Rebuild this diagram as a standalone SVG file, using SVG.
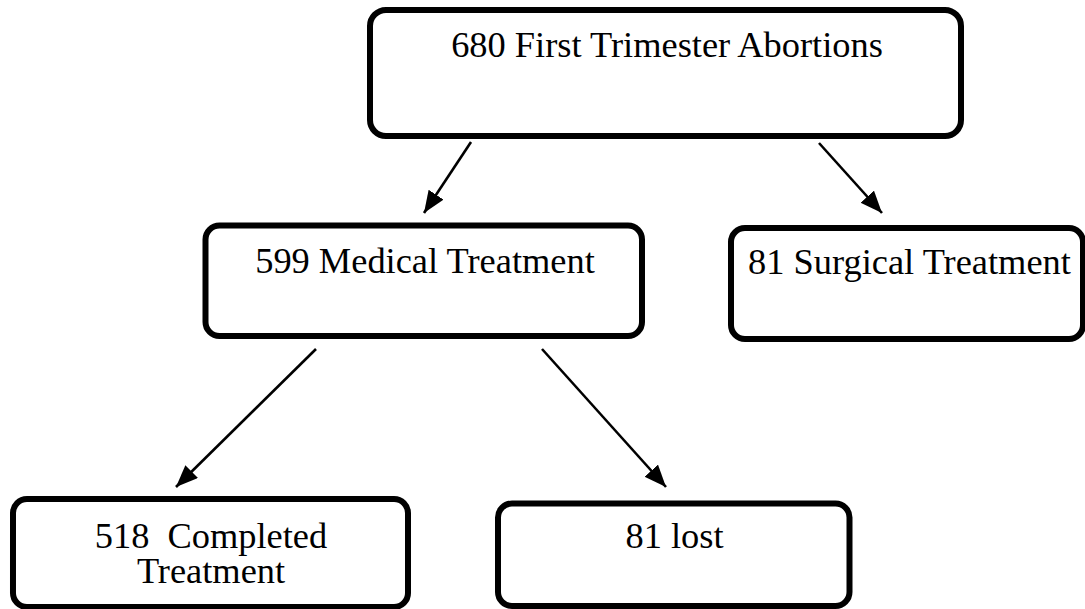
<svg xmlns="http://www.w3.org/2000/svg" width="1085" height="609" viewBox="0 0 1085 609">
  <style>
    .box { fill: #ffffff; stroke: #000000; stroke-width: 6; }
    .lbl { font-family: "Liberation Serif", "Times New Roman", serif; font-size: 36.4px; fill: #000000; text-anchor: middle; }
    .conn { stroke: #000000; stroke-width: 2.6; fill: none; marker-end: url(#arrow); }
  </style>
  <defs>
    <marker id="arrow" markerUnits="userSpaceOnUse" markerWidth="24" markerHeight="20" refX="22" refY="9" orient="auto">
      <path d="M0,0 L22,9 L0,18 Z" fill="#000000"/>
    </marker>
  </defs>
  <rect width="1085" height="609" fill="#ffffff"/>
  <g id="node-abortions">
    <rect class="box" x="370" y="10" width="591" height="126" rx="16"/>
    <text class="lbl" x="667" y="57">680 First Trimester Abortions</text>
  </g>
  <g id="node-medical">
    <rect class="box" x="205.5" y="225.5" width="436.5" height="110.5" rx="14"/>
    <text class="lbl" x="425" y="273">599 Medical Treatment</text>
  </g>
  <g id="node-surgical">
    <rect class="box" x="731" y="228" width="352" height="111" rx="14"/>
    <text class="lbl" x="909.5" y="274">81 Surgical Treatment</text>
  </g>
  <g id="node-completed">
    <rect class="box" x="13" y="499" width="395" height="108" rx="14"/>
    <text class="lbl" xml:space="preserve"><tspan x="211" y="548">518  Completed</tspan><tspan x="211" y="583">Treatment</tspan></text>
  </g>
  <g id="node-lost">
    <rect class="box" x="498" y="503.5" width="351.5" height="102.5" rx="14"/>
    <text class="lbl" x="674.5" y="548">81 lost</text>
  </g>
  <g id="connectors">
    <line class="conn" x1="471" y1="142" x2="424" y2="213"/>
    <line class="conn" x1="819" y1="143" x2="882" y2="213"/>
    <line class="conn" x1="316" y1="349" x2="176" y2="487"/>
    <line class="conn" x1="542" y1="349" x2="666" y2="487"/>
  </g>
</svg>
